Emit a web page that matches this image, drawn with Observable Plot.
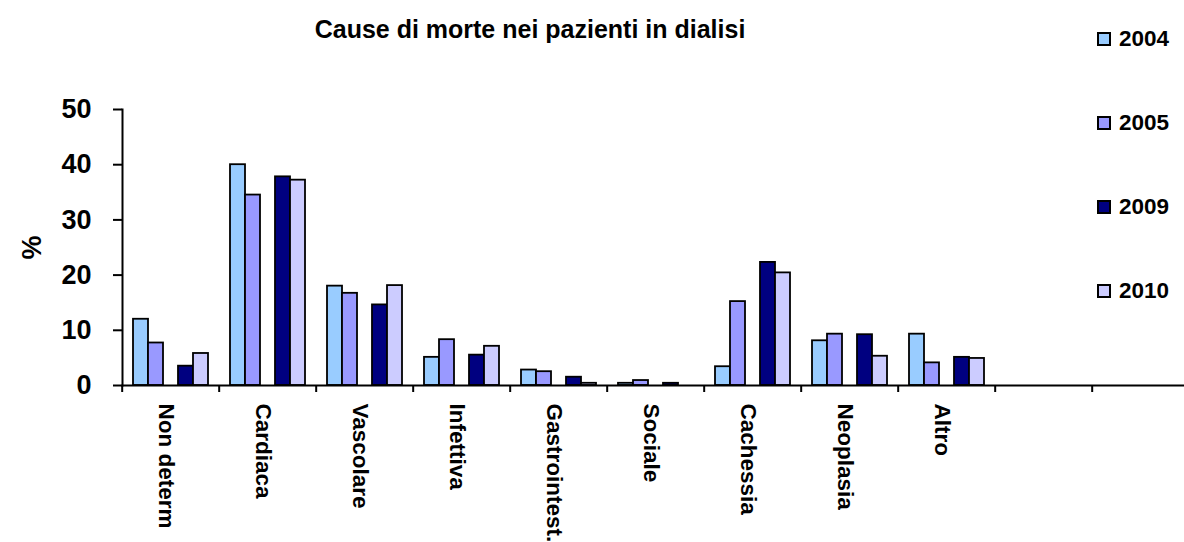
<!DOCTYPE html>
<html><head><meta charset="utf-8">
<script src="https://cdn.jsdelivr.net/npm/d3@7"></script>
<script src="https://cdn.jsdelivr.net/npm/@observablehq/plot@0.6"></script>
<style>
body{margin:0;background:#fff;font-family:"Liberation Sans",Arial,sans-serif;}
#wrap{position:relative;width:1184px;height:542px;overflow:hidden;}
#title{position:absolute;left:0;width:1060px;top:15px;text-align:center;font-weight:bold;font-size:25px;line-height:28px;color:#000;}
#chart{position:absolute;left:0;top:55px;}
#legend{position:absolute;left:1097px;top:0;width:87px;height:320px;}
.item{position:absolute;left:0;display:flex;align-items:center;font-weight:bold;font-size:22.5px;line-height:26px;white-space:nowrap;color:#000;}
.sw{width:10px;height:10px;border:2px solid #000;margin-right:8px;}
</style></head><body>
<div id="wrap">
  <div id="title">Cause di morte nei pazienti in dialisi</div>
  <div id="chart"></div>
  <div id="legend"></div>
</div>
<script>
// ---- data ----
const categories = ["Non determ","Cardiaca","Vascolare","Infettiva","Gastrointest.","Sociale","Cachessia","Neoplasia","Altro"];
const emptyCategories = [" ", "  "];
const years = ["2004","2005","2009","2010"];
const slots = ["2004","2005","2006-2008","2009","2010"];
const v2004 = [12, 40, 18, 5.1, 2.8, 0.4, 3.4, 8.1, 9.3];
const v2005 = [7.7, 34.5, 16.7, 8.3, 2.5, 0.9, 15.2, 9.3, 4.1];
const v2009 = [3.5, 37.8, 14.6, 5.5, 1.5, 0.4, 22.3, 9.2, 5.1];
const v2010 = [5.8, 37.2, 18.1, 7.1, 0.4, 0, 20.4, 5.3, 4.9];
const colors = ["#99CCFF","#9999FF","#000080","#CCCCFF"];
const yTicks = [0,10,20,30,40,50];

const series = [v2004, v2005, v2009, v2010];
const data = [];
categories.forEach((c, i) => years.forEach((y, k) => data.push({cat: c, year: y, value: series[k][i]})));
const allCats = categories.concat(emptyCategories);

const W = 1184, H = 487, ML = 118, MR = -8;
const step = (W - ML - MR) / allCats.length;

const chart = Plot.plot({
  width: W, height: H,
  marginTop: 54, marginBottom: 157, marginLeft: ML, marginRight: MR,
  style: {fontFamily: "'Liberation Sans', Arial, sans-serif", color: "#000", background: "#fff"},
  fx: {domain: allCats, paddingInner: 0, paddingOuter: 0},
  x: {domain: slots, paddingInner: 0, paddingOuter: 0.71, axis: null},
  y: {domain: [0, 50]},
  color: {domain: years, range: colors},
  marks: [
    Plot.barY(data.filter(d => d.value > 0), {fx: "cat", x: "year", y: "value", fill: "year", stroke: "#000", strokeWidth: 1.8}),
    Plot.frame({anchor: "bottom", facet: "super", stroke: "#000", strokeWidth: 2}),
    Plot.frame({anchor: "left", facet: "super", stroke: "#000", strokeWidth: 2}),
    Plot.axisY({ticks: yTicks, tickSize: 9, tickPadding: 22, fontSize: 27, fontWeight: "bold", strokeWidth: 2,
      label: "%", labelAnchor: "center", labelArrow: "none", labelOffset: 101, labelFontSize: 24}),
    Plot.axisFx({anchor: "bottom", tickSize: 0, tickRotate: 90, tickPadding: 18, fontSize: 22.5, fontWeight: "bold", label: null,
      dx: -5, tickFormat: d => d.trim()}),
    Plot.axisFx({anchor: "bottom", tickSize: 7, strokeWidth: 2, dx: -step / 2, label: null, tickFormat: () => ""})
  ]
});
document.getElementById("chart").appendChild(chart);

// legend
const legendTops = [39, 123, 207, 291];
const legend = d3.select("#legend");
years.forEach((y, k) => {
  const it = legend.append("div").attr("class", "item").style("top", (legendTops[k] - 13) + "px");
  it.append("div").attr("class", "sw").style("background", colors[k]);
  it.append("span").text(y);
});
</script>
</body></html>
